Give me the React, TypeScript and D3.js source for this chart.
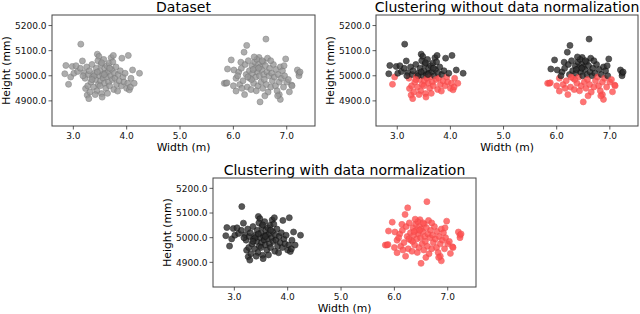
import * as d3 from "d3";

type Pt = [number, number];

// [width (m), height (mm)]
const leftGroup: Pt[] = [
  [3.14, 5126], [2.86, 5041], [2.84, 5008], [2.91, 4966], [2.98, 5037], [2.95, 4995], [3.01, 5010],
  [3.08, 5017], [3.17, 5059], [3.13, 5030], [3.20, 5012], [3.22, 4990], [3.25, 5035], [3.28, 5005],
  [3.23, 4949], [3.26, 4923], [3.29, 4909], [3.31, 4935], [3.27, 4960], [3.33, 4975], [3.30, 5020],
  [3.35, 5045], [3.36, 4995], [3.38, 4955], [3.40, 5010], [3.42, 4985], [3.43, 5030], [3.45, 5086],
  [3.48, 5077], [3.46, 5060], [3.44, 4940], [3.47, 4965], [3.49, 5000], [3.50, 5020], [3.51, 4980],
  [3.52, 5045], [3.53, 4929], [3.54, 4915], [3.55, 5005], [3.56, 4990], [3.57, 5065], [3.58, 4970],
  [3.59, 5030], [3.60, 5010], [3.61, 4950], [3.62, 4995], [3.63, 5040], [3.65, 5015], [3.66, 4975],
  [3.67, 5050], [3.68, 4960], [3.70, 5000], [3.71, 5072], [3.72, 5025], [3.73, 4985], [3.75, 5081],
  [3.74, 5055], [3.76, 4945], [3.77, 5010], [3.78, 4990], [3.80, 5035], [3.81, 4965], [3.83, 4939],
  [3.84, 5005], [3.86, 4980], [3.88, 5020], [3.91, 5070], [3.90, 4960], [3.93, 4995], [3.95, 4975],
  [3.97, 5010], [4.00, 4950], [4.03, 5081], [4.02, 4970], [4.05, 4944], [4.07, 4955], [4.08, 4990],
  [4.11, 5023], [4.14, 4970], [4.24, 5010], [3.39, 5000], [3.41, 4925], [3.53, 5052], [3.64, 4930],
  [3.58, 5005], [3.45, 5015], [3.35, 4985], [3.68, 5030], [3.50, 4960], [3.18, 5000], [3.05, 5040],
];

const rightGroup: Pt[] = [
  [6.61, 5146], [6.25, 5121], [6.20, 5094], [5.96, 5063], [6.14, 5054], [5.89, 5027], [6.01, 5023],
  [5.83, 4970], [5.86, 4970], [5.88, 4972], [6.05, 4939], [6.21, 4925], [6.50, 4896], [6.86, 4925],
  [6.88, 4906], [7.05, 4936], [7.09, 4963], [7.20, 5023], [7.23, 5010], [7.23, 5000], [6.98, 5067],
  [6.64, 5070], [6.48, 5073], [6.05, 4990], [6.10, 5015], [6.12, 4965], [6.15, 5030], [6.18, 4980],
  [6.22, 5045], [6.24, 5005], [6.26, 4955], [6.28, 5060], [6.30, 5020], [6.31, 4990], [6.33, 4945],
  [6.35, 5040], [6.36, 5010], [6.38, 4970], [6.40, 5055], [6.41, 5030], [6.42, 4995], [6.44, 5065],
  [6.45, 5015], [6.46, 4960], [6.47, 5045], [6.49, 5000], [6.50, 5035], [6.52, 4975], [6.53, 5025],
  [6.55, 4950], [6.56, 5055], [6.57, 5005], [6.58, 4985], [6.60, 5040], [6.62, 4965], [6.63, 5015],
  [6.65, 4935], [6.67, 5000], [6.68, 5030], [6.70, 4955], [6.72, 5010], [6.73, 4980], [6.75, 5045],
  [6.77, 4995], [6.79, 4960], [6.80, 5025], [6.82, 4940], [6.84, 5005], [6.86, 4975], [6.88, 5035],
  [6.90, 4990], [6.92, 5020], [6.94, 4955], [6.96, 5000], [7.00, 4975], [7.03, 4985], [7.10, 4960],
  [7.25, 5015], [6.08, 5000], [6.00, 4960], [6.16, 4950], [6.34, 4985], [6.39, 5075], [6.54, 5060],
  [6.43, 4940], [6.70, 5060], [6.27, 4995], [6.59, 4920], [6.47, 5030], [6.37, 5025], [6.83, 4920],
  [6.95, 5040],
];

// k-means without normalization splits on height
const heightSplit = 4998;

const xTicks = [3, 4, 5, 6, 7];
const yTicks = [4900, 5000, 5100, 5200];
const xDomain: Pt = [2.6, 7.53];
const yDomain: Pt = [4800, 5242];

const titles = ["Dataset", "Clustering without data normalization", "Clustering with data normalization"];

const GRAY = { fill: "#999", stroke: "#7a7a7a" };
const DARK = { fill: "#2e2e2e", stroke: "#111" };
const RED = { fill: "#ff5252", stroke: "#f04a4a" };

const FONT = "DejaVu Sans, sans-serif";

type Dot = { p: Pt; c: { fill: string; stroke: string } };

function Panel({ left, right, top, bottom, title, dots }: {
  left: number; right: number; top: number; bottom: number; title: string; dots: Dot[];
}) {
  const x = d3.scaleLinear().domain(xDomain).range([left, right]);
  const y = d3.scaleLinear().domain(yDomain).range([bottom, top]);
  const cx = (left + right) / 2;
  const cy = (top + bottom) / 2;
  return (
    <g fontFamily={FONT}>
      <text x={cx} y={top - 3} textAnchor="middle" fontSize={14} fill="#000">{title}</text>
      {dots.map((d, i) => (
        <circle key={i} cx={x(d.p[0])} cy={y(d.p[1])} r={3}
          fill={d.c.fill} stroke={d.c.stroke} strokeWidth={0.7} opacity={0.8} />
      ))}
      <rect x={left} y={top} width={right - left} height={bottom - top} fill="none" stroke="#444" strokeWidth={1} />
      {xTicks.map(t => (
        <g key={t}>
          <line x1={x(t)} x2={x(t)} y1={bottom} y2={bottom + 3.5} stroke="#333" strokeWidth={0.8} />
          <text x={x(t)} y={bottom + 13} textAnchor="middle" fontSize={9} fill="#111">{t.toFixed(1)}</text>
        </g>
      ))}
      {yTicks.map(t => (
        <g key={t}>
          <line x1={left - 3.5} x2={left} y1={y(t)} y2={y(t)} stroke="#333" strokeWidth={0.8} />
          <text x={left - 5.5} y={y(t) + 3.2} textAnchor="end" fontSize={9} fill="#111">{t.toFixed(1)}</text>
        </g>
      ))}
      <text x={cx} y={bottom + 24.5} textAnchor="middle" fontSize={10.8} fill="#000">Width (m)</text>
      <text transform={`translate(${left - 42.5},${cy}) rotate(-90)`} textAnchor="middle" fontSize={10.8} fill="#000">Height (mm)</text>
    </g>
  );
}

export default function App() {
  const all = [...leftGroup, ...rightGroup];
  const dataset: Dot[] = all.map(p => ({ p, c: GRAY }));
  const raw: Dot[] = all.map(p => ({ p, c: p[1] >= heightSplit ? DARK : RED }));
  const norm: Dot[] = [
    ...leftGroup.map(p => ({ p, c: DARK })),
    ...rightGroup.map(p => ({ p, c: RED })),
  ];
  return (
    <svg width={640} height={314} style={{ position: "absolute", left: 0, top: 0, background: "#fff" }}>
      <Panel left={52} right={315} top={15} bottom={126} title={titles[0]} dots={dataset} />
      <Panel left={376} right={638} top={15} bottom={126} title={titles[1]} dots={raw} />
      <Panel left={213} right={476} top={178} bottom={287} title={titles[2]} dots={norm} />
    </svg>
  );
}
